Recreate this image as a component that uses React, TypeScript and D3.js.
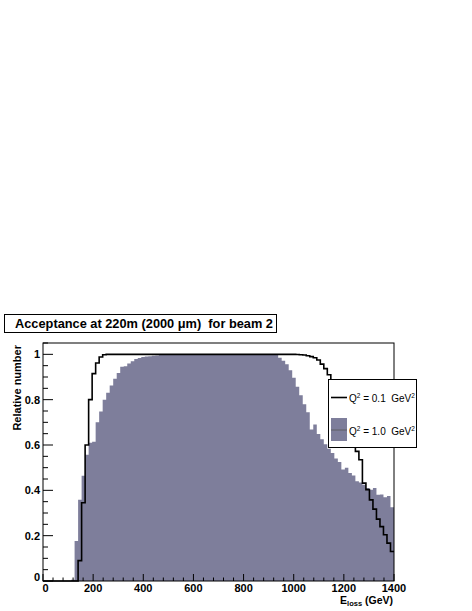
import React from "react";
import * as d3 from "d3";

// Histogram bin range (GeV)
const xLow = 0;
const xHigh = 1400;
const nBins = 100;

// Q^2 = 0.1 GeV^2 (black line)
const q01: number[] = [
  0, 0, 0, 0, 0, 0, 0, 0, 0, 0,
  0.09, 0.345, 0.6, 0.8, 0.915, 0.962, 0.988, 0.998, 1.0, 1.0,
  1.0, 1.0, 1.0, 1.0, 1.0, 1.0, 1.0, 1.0, 1.0, 1.0,
  1.0, 1.0, 1.0, 1.0, 1.0, 1.0, 1.0, 1.0, 1.0, 1.0,
  1.0, 1.0, 1.0, 1.0, 1.0, 1.0, 1.0, 1.0, 1.0, 1.0,
  1.0, 1.0, 1.0, 1.0, 1.0, 1.0, 1.0, 1.0, 1.0, 1.0,
  1.0, 1.0, 1.0, 1.0, 1.0, 1.0, 1.0, 1.0, 1.0, 1.0,
  1.0, 1.0, 0.999, 0.998, 0.997, 0.994, 0.99, 0.985, 0.975, 0.957,
  0.937, 0.91, 0.88, 0.84, 0.8, 0.76, 0.715, 0.665, 0.615, 0.572,
  0.535, 0.432, 0.403, 0.358, 0.317, 0.273, 0.24, 0.204, 0.167, 0.13,
];

// Q^2 = 1.0 GeV^2 (filled)
const q10: number[] = [
  0, 0, 0, 0, 0, 0, 0, 0, 0.006, 0.177,
  0.358, 0.464, 0.557, 0.61, 0.614, 0.7, 0.748, 0.8, 0.83, 0.862,
  0.892, 0.918, 0.945, 0.947, 0.96, 0.97, 0.979, 0.984, 0.988, 0.99,
  0.991, 0.994, 0.995, 0.997, 0.998, 0.998, 0.999, 0.999, 1.0, 1.0,
  1.0, 1.0, 1.0, 1.0, 1.0, 1.0, 1.0, 1.0, 1.0, 1.0,
  1.0, 1.0, 1.0, 1.0, 1.0, 1.0, 1.0, 1.0, 1.0, 1.0,
  1.0, 1.0, 1.0, 1.0, 1.0, 0.999, 0.998, 0.985, 0.972, 0.956,
  0.93, 0.897, 0.857, 0.82, 0.78, 0.745, 0.668, 0.69, 0.648, 0.625,
  0.603, 0.583, 0.565, 0.54, 0.525, 0.492, 0.5, 0.476, 0.465, 0.44,
  0.435, 0.425, 0.41, 0.403, 0.41, 0.38, 0.382, 0.37, 0.375, 0.325,
];

const xTickValues = [0, 200, 400, 600, 800, 1000, 1200, 1400];
const xTickLabels = ["0", "200", "400", "600", "800", "1000", "1200", "1400"];
const yTickValues = [0, 0.2, 0.4, 0.6, 0.8, 1];
const yTickLabels = ["0", "0.2", "0.4", "0.6", "0.8", "1"];

const FILL = "#7e7e9b";
const FONT = "'Liberation Sans', Arial, Helvetica, sans-serif";

export default function App() {
  const left = 43, right = 394, top = 343, bottom = 581;
  const x = d3.scaleLinear().domain([xLow, xHigh]).range([left, right]);
  const y = d3.scaleLinear().domain([0, 1.05]).range([bottom, top]);
  const bw = (xHigh - xLow) / nBins;

  const toPts = (arr: number[]) => [
    ...arr.map((v, i) => [xLow + i * bw, v] as [number, number]),
    [xHigh, arr[arr.length - 1]] as [number, number],
  ];

  const area = d3
    .area<[number, number]>()
    .x((d) => x(d[0]))
    .y0(y(0))
    .y1((d) => y(d[1]))
    .curve(d3.curveStepAfter);
  const line = d3
    .line<[number, number]>()
    .x((d) => x(d[0]))
    .y((d) => y(d[1]))
    .curve(d3.curveStepAfter);

  const xMinor = d3.range(xLow, xHigh + 0.1, 40).filter((v) => v % 200 !== 0);
  const yMinor = d3.range(0, 1.051, 0.05).filter((v) => Math.abs(v * 5 - Math.round(v * 5)) > 1e-6);

  const lg = { x0: 328, y0: 379, x1: 416, y1: 447 };
  const pre = { whiteSpace: "pre" as const };

  return (
    <svg
      width={472}
      height={611}
      style={{ position: "absolute", left: 0, top: 0, background: "#fff" }}
      fontFamily={FONT}
    >
      <rect x={0} y={0} width={472} height={611} fill="#fff" />
      {/* title box */}
      <rect x={4.5} y={314.5} width={272} height={18} fill="#fff" stroke="#000" strokeWidth={1} />
      <text x={15} y={328} fontSize={12.5} fontWeight="bold" fill="#000" style={pre} textLength={258} lengthAdjust="spacingAndGlyphs">
        {"Acceptance at 220m (2000 μm)  for beam 2"}
      </text>

      {/* histograms */}
      <path d={area(toPts(q10)) || ""} fill={FILL} stroke="none" />
      <path d={line(toPts(q01)) || ""} fill="none" stroke="#000" strokeWidth={1.6} />

      {/* frame */}
      <rect x={left} y={top} width={right - left} height={bottom - top} fill="none" stroke="#000" strokeWidth={1} />

      {/* x ticks */}
      {xTickValues.map((v) => (
        <line key={"xt" + v} x1={x(v)} x2={x(v)} y1={bottom} y2={bottom - 7} stroke="#000" strokeWidth={1} />
      ))}
      {xMinor.map((v) => (
        <line key={"xm" + v} x1={x(v)} x2={x(v)} y1={bottom} y2={bottom - 3.5} stroke="#000" strokeWidth={1} />
      ))}
      {xTickValues.map((v, i) => (
        <text
          key={"xl" + v}
          x={v === 0 ? x(v) + 2.5 : x(v)}
          y={591.5}
          fontSize={11}
          fontWeight="bold"
          textAnchor="middle"
        >
          {xTickLabels[i]}
        </text>
      ))}

      {/* y ticks */}
      {yTickValues.map((v) => (
        <line key={"yt" + v} x1={left} x2={left + 10} y1={y(v)} y2={y(v)} stroke="#000" strokeWidth={1} />
      ))}
      {yMinor.map((v) => (
        <line key={"ym" + v} x1={left} x2={left + 5} y1={y(v)} y2={y(v)} stroke="#000" strokeWidth={1} />
      ))}
      {yTickValues.map((v, i) => (
        <text
          key={"yl" + v}
          x={40}
          y={(v === 0 ? y(v) - 4.5 : y(v)) + 4}
          fontSize={11}
          fontWeight="bold"
          textAnchor="end"
        >
          {yTickLabels[i]}
        </text>
      ))}

      {/* axis titles */}
      <text
        transform={`translate(20.5,${top + 2}) rotate(-90)`}
        fontSize={11}
        fontWeight="bold"
        textAnchor="end"
      >
        Relative number
      </text>
      <text x={393} y={603.5} fontSize={10.5} fontWeight="bold" textAnchor="end" style={pre}>
        E<tspan fontSize={7.5} dy={2.5}>loss</tspan>
        <tspan dy={-2.5}>{" (GeV)"}</tspan>
      </text>

      {/* legend */}
      <rect x={lg.x0 + 0.5} y={lg.y0 + 0.5} width={lg.x1 - lg.x0} height={lg.y1 - lg.y0} fill="#fff" stroke="#000" strokeWidth={1} />
      <line x1={331} x2={347} y1={397.5} y2={397.5} stroke="#000" strokeWidth={1.6} />
      <text x={349} y={401.5} fontSize={10} fill="#000" style={pre}>
        Q<tspan fontSize={6.5} dy={-4}>2</tspan>
        <tspan dy={4}>{" = 0.1  GeV"}</tspan>
        <tspan fontSize={6.5} dy={-4}>2</tspan>
      </text>
      <rect x={331} y={418} width={16} height={23} fill={FILL} />
      <line x1={331} x2={347} y1={430} y2={430} stroke="#555" strokeWidth={0.8} />
      <text x={349} y={435} fontSize={10} fill="#000" style={pre}>
        Q<tspan fontSize={6.5} dy={-4}>2</tspan>
        <tspan dy={4}>{" = 1.0  GeV"}</tspan>
        <tspan fontSize={6.5} dy={-4}>2</tspan>
      </text>
    </svg>
  );
}
